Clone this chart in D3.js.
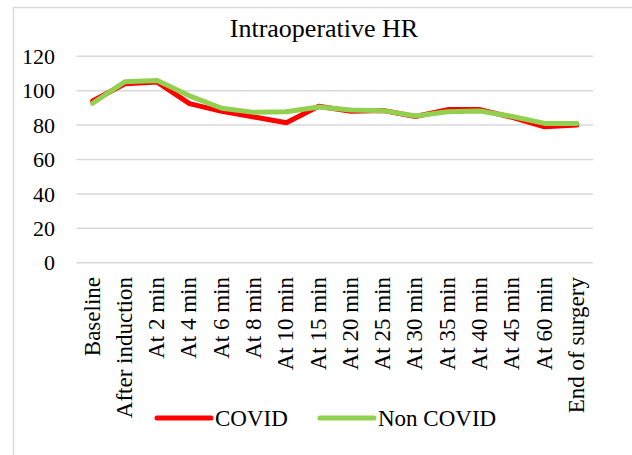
<!DOCTYPE html>
<html lang="en">

<head>
  <meta charset="UTF-8">
  <title>Intraoperative HR</title>
  <style>
    body { margin: 0; background: #fff; }
    text { font-family: "Liberation Serif", "Times New Roman", serif; fill: #000; }
  </style>
</head>

<body>

  <script src="https://cdn.jsdelivr.net/npm/d3@7/dist/d3.min.js"></script>
  <script>

    let width = 632
    let height = 455
    let categories = ['Baseline', 'After induction', 'At 2 min', 'At 4 min', 'At 6 min', 'At 8 min', 'At 10 min',
      'At 15 min', 'At 20 min', 'At 25 min', 'At 30 min', 'At 35 min', 'At 40 min', 'At 45 min', 'At 60 min', 'End of surgery']
    let covid = [94, 104, 105, 92.5, 88, 84.7, 81.4, 91, 88, 88.5, 85, 89, 89, 84.5, 79, 80]
    let nonCovid = [92.7, 105.2, 106, 97, 89.8, 87.4, 87.8, 90.5, 88.8, 88.4, 85.3, 87.8, 88.2, 85, 81, 81]
    let yTicks = [0, 20, 40, 60, 80, 100, 120]
    let seriesNames = ['COVID', 'Non COVID']
    let colors = ['#ff0000', '#92d050']

    let svg = d3.select('body')
      .append('svg')
      .attr('width', width)
      .attr('height', height)

    // chart border
    svg.append('rect')
      .attr('x', 13.5).attr('y', 7.5)
      .attr('width', 700).attr('height', 500)
      .attr('fill', 'none')
      .attr('stroke', '#d9d9d9')
      .attr('stroke-width', 1.5)

    svg.append('text')
      .attr('x', 324).attr('y', 37)
      .attr('text-anchor', 'middle')
      .attr('font-size', 26)
      .text('Intraoperative HR')

    let x = d3.scalePoint()
      .domain(categories)
      .range([76.5, 593])
      .padding(0.5)

    let y = d3.scaleLinear()
      .domain([0, 120])
      .range([262.7, 56.3])

    // gridlines
    svg.append('g')
      .selectAll('line')
      .data(yTicks)
      .enter()
      .append('line')
      .attr('x1', 76.5).attr('x2', 593)
      .attr('y1', d => y(d)).attr('y2', d => y(d))
      .attr('stroke', '#d9d9d9')
      .attr('stroke-width', 1.5)

    // y labels
    svg.append('g')
      .selectAll('text')
      .data(yTicks)
      .enter()
      .append('text')
      .attr('x', 55)
      .attr('y', d => y(d))
      .attr('dy', '0.35em')
      .attr('text-anchor', 'end')
      .attr('font-size', 22)
      .text(d => d)

    // x labels, rotated
    svg.append('g')
      .selectAll('text')
      .data(categories)
      .enter()
      .append('text')
      .attr('transform', d => `translate(${x(d) + 7},277) rotate(-90)`)
      .attr('text-anchor', 'end')
      .attr('font-size', 23)
      .text(d => d)

    let line = d3.line()
      .x((d, i) => x(categories[i]))
      .y(d => y(d))

    svg.append('g')
      .selectAll('path')
      .data([covid, nonCovid])
      .enter()
      .append('path')
      .attr('d', d => line(d))
      .attr('fill', 'none')
      .attr('stroke', (d, i) => colors[i])
      .attr('stroke-width', 5)
      .attr('stroke-linejoin', 'round')
      .attr('stroke-linecap', 'round')

    // legend
    let legendX = [157, 320]
    let legend = svg.append('g')
      .selectAll('g')
      .data(seriesNames)
      .enter()
      .append('g')
      .attr('transform', (d, i) => `translate(${legendX[i]},418)`)

    legend.append('line')
      .attr('x1', 0).attr('x2', 54)
      .attr('stroke', (d, i) => colors[i])
      .attr('stroke-width', 5)
      .attr('stroke-linecap', 'round')

    legend.append('text')
      .attr('x', 58)
      .attr('dy', '0.35em')
      .attr('font-size', 23)
      .text(d => d)
  </script>
</body>

</html>
